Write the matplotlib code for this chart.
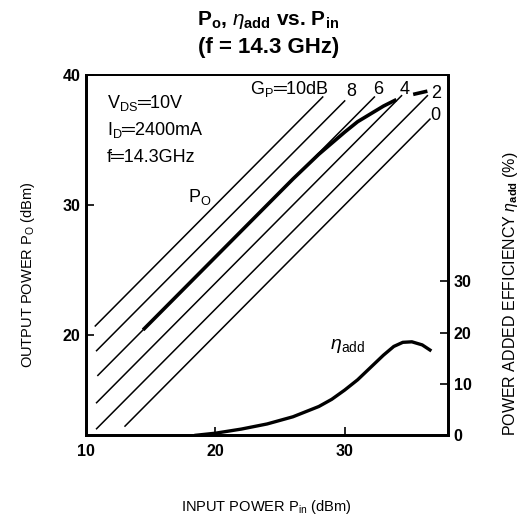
import matplotlib
matplotlib.use("Agg")
import matplotlib.pyplot as plt
import numpy as np

plt.rcParams['font.family'] = ['Liberation Sans', 'DejaVu Sans']
plt.rcParams['mathtext.fontset'] = 'custom'
plt.rcParams['mathtext.rm'] = 'Liberation Sans'
plt.rcParams['mathtext.it'] = 'Liberation Sans:italic'
plt.rcParams['mathtext.bf'] = 'Liberation Sans:bold'

# constant gain lines: Pout = Pin + G
gains = [10, 8, 6, 4, 2, 0]
gain_pin_start = [10.7, 10.8, 10.9, 10.8, 10.8, 13.0]
gain_pin_end = [28.3, 30.0, 32.3, 34.4, 36.4, 36.6]
gain_label_x = [30.5, 32.6, 34.6, 37.05, 37.05]
gain_label_y = [38.7, 38.85, 38.85, 38.6, 36.9]

# output power curve
po_pin = [14.4, 20.0, 26.0, 28.0, 30.0, 31.0, 32.0, 33.0, 34.0]
po_out = [20.4, 26.0, 32.0, 33.9, 35.6, 36.4, 37.0, 37.6, 38.1]
po_tail_pin = [35.3, 36.4]
po_tail_out = [38.5, 38.75]

# power added efficiency (%)
eff_pin = [18.5, 20.0, 22.0, 24.0, 26.0, 28.0, 29.0, 30.0, 31.0, 32.0, 33.0,
           33.8, 34.5, 35.2, 36.0, 36.6]
eff_val = [0.0, 0.4, 1.2, 2.2, 3.6, 5.6, 7.0, 8.8, 10.8, 13.2, 15.6,
           17.3, 18.1, 18.2, 17.6, 16.6]

fig = plt.figure(figsize=(5.29, 5.20), dpi=100)
ax = fig.add_axes([0.163, 0.163, 0.684, 0.693])
ax2 = ax.twinx()

for g, x0, x1 in zip(gains, gain_pin_start, gain_pin_end):
    xs = np.array([x0, x1])
    ax.plot(xs, xs + g, color='black', lw=1.1)

ax.plot(po_pin, po_out, color='black', lw=2.6, solid_capstyle='butt')
ax.plot(po_tail_pin, po_tail_out, color='black', lw=2.6, solid_capstyle='butt')
ax2.plot(eff_pin, eff_val, color='black', lw=2.4)

ax.set_xlim(10, 38)
ax.set_ylim(12.3, 40)
ax2.set_ylim(0, 70.2)

ax.set_xticks([10, 20, 30])
ax.set_yticks([20, 30, 40])
ax2.set_yticks([0, 10, 20, 30])
for a in (ax, ax2):
    a.tick_params(direction='in', length=6, width=1.2, labelsize=11.5, pad=4)
ax.tick_params(axis='x', pad=6)
for lab in ax.get_xticklabels() + ax.get_yticklabels() + ax2.get_yticklabels():
    lab.set_fontweight('bold')

for s in ['left', 'bottom', 'right']:
    ax.spines[s].set_linewidth(2.0)
    ax2.spines[s].set_linewidth(2.0)
ax.spines['top'].set_linewidth(1.3)
ax2.spines['top'].set_linewidth(1.3)

# annotations
ax.text(11.6, 37.85, r'V$_{\rm DS}$═10V', fontsize=13, va='center')
ax.text(11.6, 35.75, r'I$_{\rm D}$═2400mA', fontsize=13, va='center')
ax.text(11.6, 33.65, r'f═14.3GHz', fontsize=13, va='center')
ax.text(25.7, 38.9, r'G$_{\rm P}$═10dB', fontsize=13, va='center', ha='center')
for lbl, x, y in zip(gains[1:], gain_label_x, gain_label_y):
    ax.text(x, y, str(lbl), fontsize=13, va='center', ha='center')
ax.text(18.8, 30.6, r'P$_{\rm O}$', fontsize=13, va='center', ha='center')
ax2.text(30.2, 17.3, r'$\eta$$_{\rm add}$', fontsize=14, va='center', ha='center')

fig.text(266 / 529, 1 - 507 / 520, r'INPUT POWER P$_{\rm in}$ (dBm)', fontsize=10.5,
         ha='center', va='center')
fig.text(28 / 529, 1 - 275 / 520, r'OUTPUT POWER P$_{\rm O}$ (dBm)', fontsize=10.5,
         ha='center', va='center', rotation=90)
fig.text(510 / 529, 1 - 294 / 520, r'POWER ADDED EFFICIENCY $\eta_{\bf add}$ (%)',
         fontsize=11.5, ha='center', va='center', rotation=90)

fig.text(0.507, 0.962, r'P$_\mathbf{o}$, $\eta_\mathbf{add}$ vs. P$_\mathbf{in}$',
         fontsize=15, fontweight='bold', ha='center', va='center')
fig.text(0.507, 0.909, '(f = 14.3 GHz)', fontsize=16, fontweight='bold',
         ha='center', va='center')

fig.savefig('out.png', dpi=100)
